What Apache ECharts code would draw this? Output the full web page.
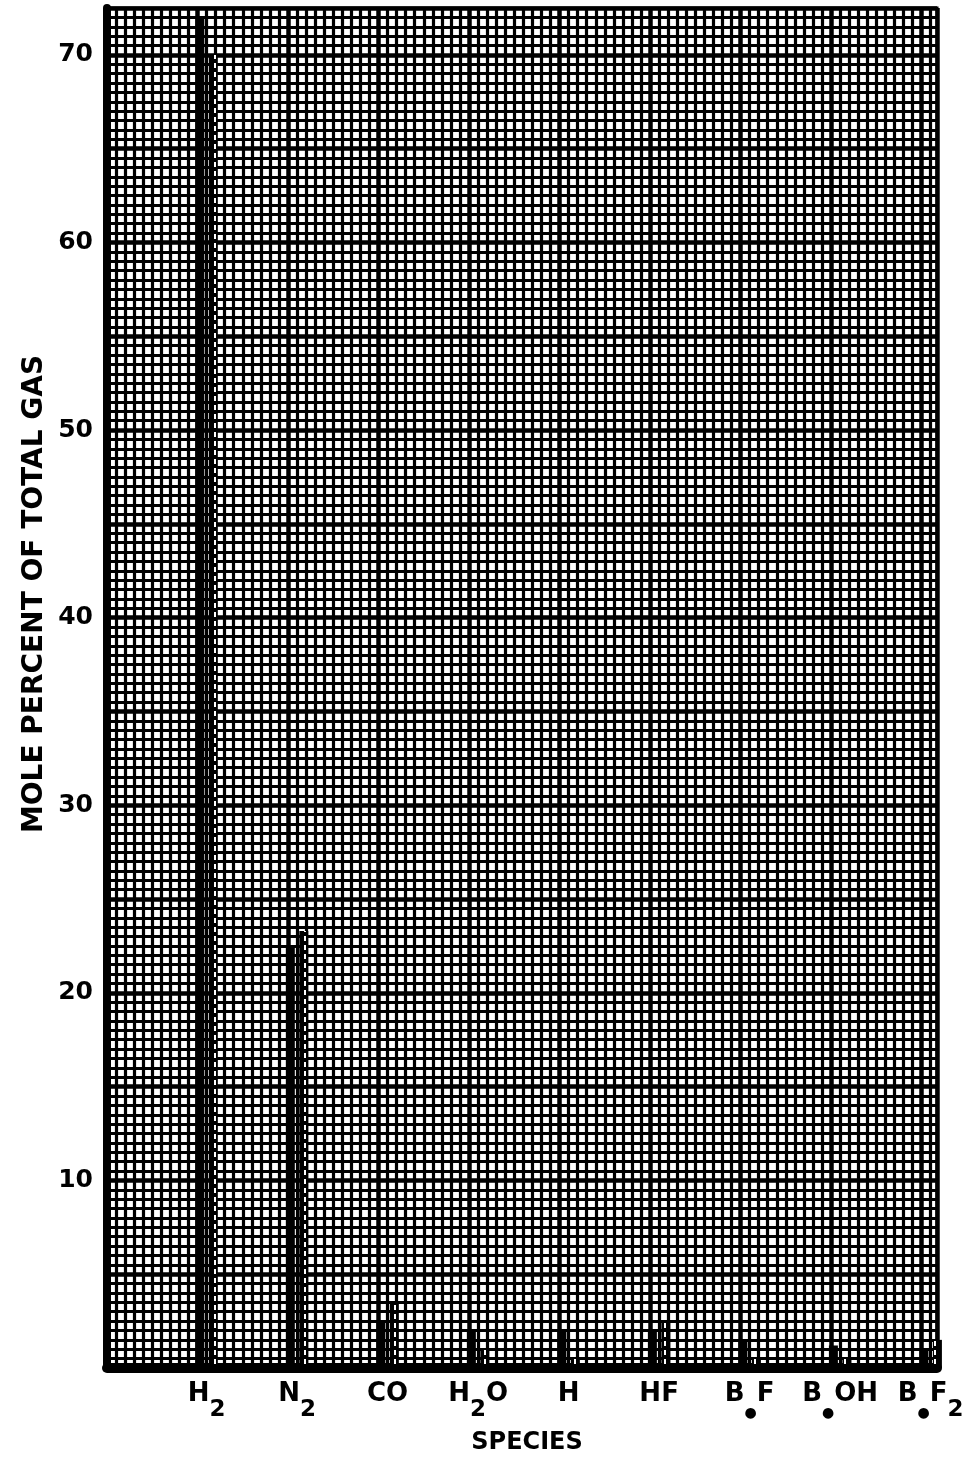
<!DOCTYPE html>
<html>
<head>
<meta charset="utf-8">
<script src="https://cdn.jsdelivr.net/npm/echarts@6/dist/echarts.min.js"></script>
<style>
html,body{margin:0;padding:0;background:#fff;}
#chart{width:972px;height:1461px;}
</style>
</head>
<body>
<div id="chart"></div>
<script>
// Species (categories) and rich-text tick labels
const species = ['H2', 'N2', 'CO', 'H2O', 'H', 'HF', 'B•F', 'B•OH', 'B•F2'];
const speciesLabels = [
  '{m|H}{s|2}', '{m|N}{s|2}', '{m|CO}', '{m|H}{s|2}{m|O}', '{m|H}',
  '{m|HF}', '{m|B}{d|●}{m|F}', '{m|B}{d|●}{m|OH}', '{m|B}{d|●}{m|F}{s|2}'
];
// Mole percent values
const solidValues  = [72.0, 22.5, 2.5, 2.0, 2.0, 2.0, 1.5, 1.2, 1.0];
const dashedValues = [70.0, 23.3, 3.5, 1.0, 0.5, 2.5, 0.5, 0.5, 1.5];
const yTickLabels = [10, 20, 30, 40, 50, 60, 70];

const FONT = 'DejaVu Sans';
const chart = echarts.init(document.getElementById('chart'), null, {renderer: 'canvas'});

const positions = species.map((s, i) => i + 1);

chart.setOption({
  backgroundColor: '#fff',
  animation: false,
  grid: {
    left: 107, right: 35, top: 8, bottom: 93,
    show: true, backgroundColor: '#fff', borderColor: '#000', borderWidth: 3
  },
  xAxis: [
    {
      type: 'value', min: 0, max: 9.17, interval: 1, position: 'bottom',
      axisLine: {show: true, onZero: false, lineStyle: {color: '#000', width: 10}},
      axisTick: {show: false},
      axisLabel: {show: false},
      splitLine: {show: true, lineStyle: {color: '#000', width: 4.5}},
      minorTick: {show: false, splitNumber: 10},
      minorSplitLine: {show: true, lineStyle: {color: '#000', width: 3.2}}
    },
    {
      type: 'value', min: -0.1, max: 9.07, position: 'bottom',
      axisLine: {show: false},
      axisTick: {show: false},
      splitLine: {show: false},
      axisLabel: {
        show: true,
        customValues: positions,
        margin: 13,
        formatter: function (v) {
          const i = Math.round(v) - 1;
          return speciesLabels[i] || '';
        },
        rich: {
          m: {fontFamily: FONT, fontWeight: 'bold', fontSize: 26, color: '#000', padding: [0, 0, 16, 0]},
          s: {fontFamily: FONT, fontWeight: 'bold', fontSize: 23, color: '#000', padding: [16, 0, 0, 0]},
          d: {fontFamily: FONT, fontWeight: 'bold', fontSize: 14, color: '#000', padding: [22, 0, 0, 0]}
        }
      }
    }
  ],
  yAxis: {
    type: 'value', min: 0, max: 72.5, interval: 5,
    axisLine: {show: true, lineStyle: {color: '#000', width: 8}},
    axisTick: {show: false},
    axisLabel: {
      margin: 14,
      fontFamily: FONT, fontWeight: 'bold', fontSize: 25, color: '#000',
      formatter: function (v) {
        return yTickLabels.indexOf(v) >= 0 ? String(v) : '';
      }
    },
    splitLine: {show: true, lineStyle: {color: '#000', width: 4.5}},
    minorTick: {show: false, splitNumber: 10},
    minorSplitLine: {show: true, lineStyle: {color: '#000', width: 3.2}}
  },
  series: [
    {
      type: 'bar', xAxisIndex: 1, yAxisIndex: 0,
      barWidth: 9, barGap: '50%',
      data: solidValues.map((v, i) => [positions[i], v]),
      itemStyle: {color: '#000'}
    },
    {
      type: 'bar', xAxisIndex: 1, yAxisIndex: 0,
      barWidth: 9,
      data: dashedValues.map((v, i) => [positions[i], v]),
      itemStyle: {
        color: '#000',
        decal: {
          symbol: 'rect', symbolSize: 1, color: '#fff',
          dashArrayX: [[0, 4, 1.5, 4]], dashArrayY: [5, 4], rotation: 0
        }
      }
    }
  ],
  graphic: [
    {
      type: 'text', x: 35, y: 594, rotation: Math.PI / 2,
      style: {
        text: 'MOLE PERCENT OF TOTAL GAS', fill: '#000',
        font: 'bold 28px "DejaVu Sans"', textAlign: 'center', textVerticalAlign: 'middle'
      }
    },
    {
      type: 'text', x: 527, y: 1443,
      style: {
        text: 'SPECIES', fill: '#000',
        font: 'bold 24px "DejaVu Sans"', textAlign: 'center', textVerticalAlign: 'middle'
      }
    }
  ]
});
</script>
</body>
</html>
